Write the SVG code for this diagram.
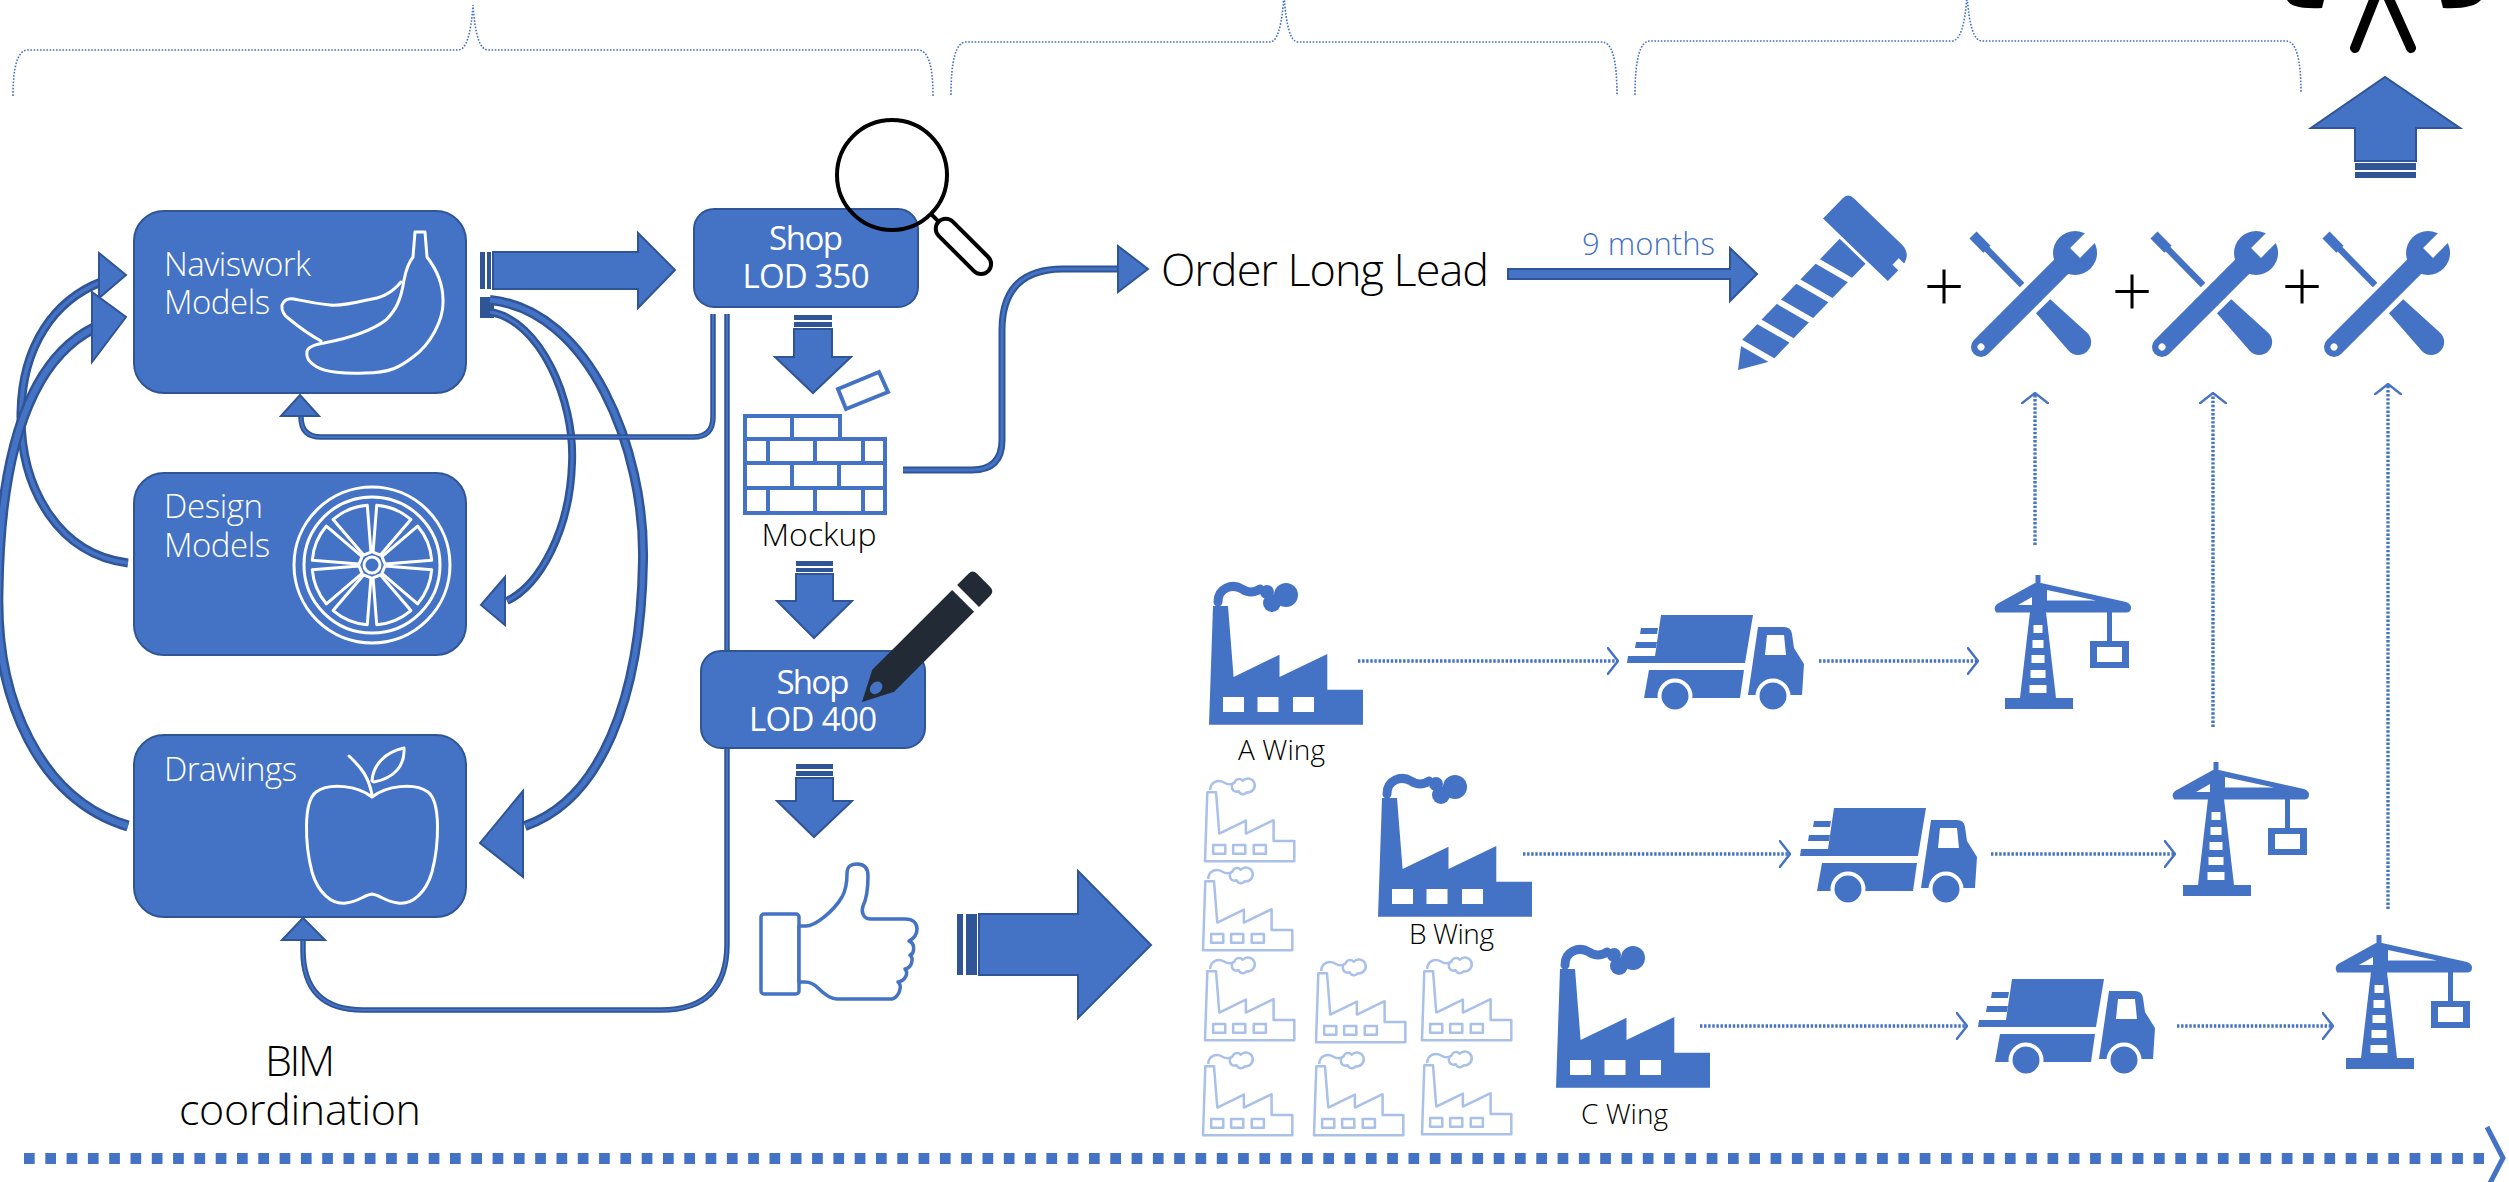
<svg xmlns="http://www.w3.org/2000/svg" width="2509" height="1182" viewBox="0 0 2509 1182">
<style>
 .box{fill:#4472C4;stroke:#2F5597;stroke-width:2}
 .blk{fill:#4472C4;stroke:#2F5597;stroke-width:2;stroke-linejoin:miter}
 .stripe{fill:#2F5597}
 .t{font-family:"Open Sans","Liberation Sans",sans-serif}
 .wl{fill:#fff;font-weight:300;font-size:33px}
 .sh{fill:#fff;font-weight:400;font-size:33px;text-anchor:middle}
 .bk{fill:#000;font-weight:300}
 .dot{fill:none;stroke:#4472C4;stroke-width:3.4;stroke-dasharray:2.4 1.7;marker-end:url(#chev)}
 .brace{fill:none;stroke:#4472C4;stroke-width:1.6;stroke-dasharray:1.6 1.6}
 .lo{fill:none;stroke:#2F5597}
 .li{fill:none;stroke:#4472C4}
 .ic{fill:none;stroke:#fff;stroke-width:3;stroke-linejoin:round;stroke-linecap:round}
</style>
<defs>
 <marker id="chev" viewBox="0 0 12 28" refX="11" refY="14" markerWidth="12" markerHeight="28" markerUnits="userSpaceOnUse" orient="auto">
  <path d="M0,0 L11,14 L0,28" fill="none" stroke="#4472C4" stroke-width="2.4"/>
 </marker>
 <!-- solid factory, 154 x 142 -->
 <g id="fac" fill="#4472C4">
  <path d="M0,141.7 L4,23 H19 L24.6,94 L70.5,71.7 V94 L118.3,71 V106.7 H154 V141.7 Z"/>
  <g fill="#fff"><rect x="14" y="114" width="21" height="15"/><rect x="48.5" y="114" width="21" height="15"/><rect x="84" y="114" width="21" height="15"/></g>
  <path d="M9,19 C9,5 23,0 33,6 C39,10 45,10 51,6" fill="none" stroke="#4472C4" stroke-width="9" stroke-linecap="round"/>
  <circle cx="77" cy="12" r="12"/><circle cx="63" cy="20" r="9"/><circle cx="58" cy="9" r="7"/>
 </g>
 <!-- outlined factory -->
 <g id="facLine" fill="none" stroke="#A9C0E8" stroke-width="4.3" stroke-linejoin="round">
  <path d="M0,141.7 L4,23 H19 L24.6,94 L70.5,71.7 V94 L118.3,71 V106.7 H154 V141.7 Z"/>
  <rect x="14" y="114" width="21" height="15"/><rect x="48.5" y="114" width="21" height="15"/><rect x="84" y="114" width="21" height="15"/>
  <path d="M9,19 C9,5 23,0 33,6 C39,10 45,10 51,6"/>
  <path d="M51,6 A8,8 0 0 1 65,3 A12,12 0 1 1 72,23 A8,8 0 0 1 58,21 A7,7 0 0 1 51,6 Z"/>
 </g>
 <!-- delivery truck, 178 x 97 -->
 <g id="truck" fill="#4472C4">
  <path d="M34,0 H126 L118,48 H0 L1,41 H28 Z"/>
  <path d="M14,13 H31 L30,19 H13 Z"/>
  <path d="M9,27 H30 L29,33 H8 Z"/>
  <path d="M22,55 H117 L113,83 H17 Z"/>
  <path d="M131,12 H157 Q164,12 165,19 L167,33 L177,49 L175,80 H121 Z"/>
  <path d="M140,20 H157 L159,40 H138 Z" fill="#fff"/>
  <circle cx="48" cy="81" r="15.5" stroke="#fff" stroke-width="4"/>
  <circle cx="146" cy="81" r="15.5" stroke="#fff" stroke-width="4"/>
 </g>
 <!-- tower crane, origin at the mast peak -->
 <g id="crane" fill="#4472C4">
  <rect x="-2.5" y="0" width="5" height="14"/>
  <path d="M-3,8 L-41,29 Q-45,32 -42,37.6 H89 Q93,37 93,32.5 Q93,29 88,27 L3,8 Z"/>
  <path d="M-20,30 L-6,22 V30 Z M9,15 L58,25.5 H9 Z" fill="#fff"/>
  <path d="M-8,37 H8 L18,123 H-18 Z"/>
  <g fill="#fff"><rect x="-4.5" y="50" width="9" height="8"/><rect x="-5.5" y="65" width="11" height="8"/><rect x="-6.5" y="80" width="13" height="8"/><rect x="-7.5" y="95" width="15" height="8"/><rect x="-8.5" y="110" width="17" height="8"/></g>
  <rect x="-33" y="123" width="68" height="11"/>
  <rect x="69" y="37" width="5" height="30"/>
  <rect x="52" y="66" width="39" height="27"/>
  <rect x="59" y="72" width="25" height="15" fill="#fff"/>
 </g>
 <!-- wrench and screwdriver, 127 x 127 -->
 <g id="tools" fill="#4472C4">
  <g transform="translate(3,3) rotate(45.5)">
   <path d="M0,-5 H20 V5 H0 Z"/>
   <rect x="18" y="-3.2" width="52" height="6.4"/>
   <path d="M100,-10 L150,-13 A13,13 0 0 1 150,13 L100,10 Z"/>
  </g>
  <g transform="translate(11,115) rotate(-45)">
   <path d="M0,-10 H115 V10 H0 A10,10 0 0 1 0,-10 Z"/>
   <circle cx="133" cy="0" r="22"/>
   <rect x="133" y="-7" width="28" height="14" fill="#fff"/>
   <circle cx="0" cy="0" r="3.5" fill="#fff"/>
  </g>
 </g>
</defs>

<rect width="2509" height="1182" fill="#fff"/>

<!-- phase brackets along the top -->
<g id="braces">
 <path class="brace" d="M13,96 Q13,50 28,50 H458 Q470,50 473,5 Q476,50 488,50 H918 Q933,50 933,96"/>
 <path class="brace" d="M951,95 Q951,42 966,42 H1270 Q1281,42 1284,-5 Q1287,42 1298,42 H1602 Q1617,42 1617,95"/>
 <path class="brace" d="M1635,95 Q1635,41 1650,41 H1952 Q1964,41 1967,-5 Q1970,41 1982,41 H2286 Q2301,41 2301,93"/>
</g>

<g id="connectors">
 <!-- curved block arrows of the coordination loop -->
 <path class="lo" stroke-width="9" d="M128,563 C60,555 20,490 21,413 C22,345 55,300 101,282"/>
 <path class="li" stroke-width="4" d="M128,563 C60,555 20,490 21,413 C22,345 55,300 101,282"/>
 <polygon class="blk" points="99,253 126,275 99,298"/>
 <path class="lo" stroke-width="11" d="M128,826 C40,800 -5,700 -2,590 C0,450 30,360 94,328"/>
 <path class="li" stroke-width="6" d="M128,826 C40,800 -5,700 -2,590 C0,450 30,360 94,328"/>
 <polygon class="blk" points="92,292 126,317 92,362"/>
 <rect x="480" y="297" width="14" height="21" fill="#2F5597"/>
 <path class="lo" stroke-width="8" d="M490,312 C540,320 575,400 572,463 C570,530 540,585 507,601"/>
 <path class="li" stroke-width="3" d="M490,312 C540,320 575,400 572,463 C570,530 540,585 507,601"/>
 <polygon class="blk" points="505,577 481,605 505,625"/>
 <path class="lo" stroke-width="10" d="M490,300 C590,310 645,450 643,560 C641,700 600,800 525,826"/>
 <path class="li" stroke-width="5" d="M490,300 C590,310 645,450 643,560 C641,700 600,800 525,826"/>
 <polygon class="blk" points="523,791 480,843 523,877"/>

 <!-- Naviswork to Shop LOD 350 -->
 <rect class="stripe" x="480" y="252" width="5" height="37"/>
 <rect class="stripe" x="487" y="252" width="4" height="37"/>
 <path class="blk" d="M493,252 H638 V233 L675,270 L638,308 V289 H493 Z"/>

 <!-- feedback lines back to the models -->
 <path class="lo" stroke-width="5.5" d="M713,314 V417 Q713,437 693,437 H321 Q301,437 301,417 V414"/>
 <path class="li" stroke-width="2" d="M713,314 V417 Q713,437 693,437 H321 Q301,437 301,417 V414"/>
 <polygon class="blk" points="281,416 300,395 319,416"/>
 <path class="lo" stroke-width="5.5" d="M727,314 V944 Q727,1010 661,1010 H363 Q303,1010 303,950 V941"/>
 <path class="li" stroke-width="2" d="M727,314 V944 Q727,1010 661,1010 H363 Q303,1010 303,950 V941"/>
 <polygon class="blk" points="282,940 303,918 325,940"/>

 <!-- vertical flow -->
 <rect class="stripe" x="794" y="315" width="38" height="5"/>
 <rect class="stripe" x="794" y="322" width="38" height="5"/>
 <path class="blk" d="M794,329 H832 V357 H851 L813,393 L775,357 H794 Z"/>
 <rect class="stripe" x="796" y="561" width="37" height="5"/>
 <rect class="stripe" x="796" y="568" width="37" height="4"/>
 <path class="blk" d="M796,574 H833 V601 H852 L814,638 L777,601 H796 Z"/>
 <rect class="stripe" x="796" y="764" width="37" height="5"/>
 <rect class="stripe" x="796" y="771" width="37" height="5"/>
 <path class="blk" d="M796,778 H833 V801 H852 L814,837 L777,801 H796 Z"/>

 <!-- approval to production -->
 <rect class="stripe" x="957" y="914" width="6" height="61"/>
 <rect class="stripe" x="966" y="914" width="11" height="61"/>
 <path class="blk" d="M979,914 H1078 V871 L1151,945 L1078,1018 V975 H979 Z"/>

 <!-- mockup to long lead order -->
 <path class="lo" stroke-width="7" d="M903,470 H972 Q1002,470 1002,440 V330 Q1002,269 1063,269 H1120"/>
 <path class="li" stroke-width="3" d="M903,470 H972 Q1002,470 1002,440 V330 Q1002,269 1063,269 H1120"/>
 <polygon class="blk" points="1118,246 1148,269 1118,292"/>

 <!-- nine month lead time -->
 <path class="blk" d="M1508,269 H1730 V248 L1757,274 L1730,301 V279 H1508 Z"/>

 <!-- up arrow at the top right -->
 <path class="blk" d="M2355,161 V128 H2311 L2385,77 L2460,128 H2416 V161 Z"/>
 <rect class="stripe" x="2355" y="163" width="61" height="7"/>
 <rect class="stripe" x="2355" y="172" width="61" height="6"/>

 <!-- supply chain dotted links -->
 <path class="dot" d="M1358,661 H1618"/>
 <path class="dot" d="M1819,661 H1978"/>
 <path class="dot" d="M1523,854 H1790"/>
 <path class="dot" d="M1991,854 H2175"/>
 <path class="dot" d="M1700,1026 H1967"/>
 <path class="dot" d="M2177,1026 H2333"/>
 <path class="dot" d="M2035,545 V393"/>
 <path class="dot" d="M2213,727 V393"/>
 <path class="dot" d="M2388,909 V384"/>

 <!-- timeline -->
 <path d="M24,1158.5 H2484" fill="none" stroke="#4472C4" stroke-width="11" stroke-dasharray="10.7 10.6"/>
 <polyline points="2487,1127 2503,1158 2487,1189" fill="none" stroke="#4472C4" stroke-width="5"/>
</g>

<!-- model boxes -->
<g id="naviswork">
 <rect class="box" x="134" y="211" width="332" height="182" rx="30"/>
 <text class="t wl" x="164" y="276" textLength="147">Naviswork</text>
 <text class="t wl" x="164" y="314" textLength="106">Models</text>
 <path class="ic" d="M413,257 L415,232 H425 L427,257 C437,270 443,285 443,300 C444,320 430,345 413,357 C400,367 390,373 365,373 C345,374 325,372 317,367 C309,362 306,358 307,352 C307,348 312,345 324,343 C345,339 370,332 386,320 C396,310 401,300 404,280 C406,270 409,262 413,257 Z"/>
 <path class="ic" d="M401,282 C390,295 380,298 367,300 C350,304 340,306 330,305 C310,303 300,300 294,299 C288,298 284,300 282,305 C281,311 285,316 288,318 C300,328 310,335 321,341"/>
</g>
<g id="design-models">
 <rect class="box" x="134" y="473" width="332" height="182" rx="30"/>
 <text class="t wl" x="164" y="518" textLength="99">Design</text>
 <text class="t wl" x="164" y="557" textLength="106">Models</text>
 <g transform="translate(372,565)">
  <circle class="ic" r="78"/>
  <circle class="ic" r="68"/>
  <circle class="ic" r="8"/>
  <g class="ic">
   <path transform="rotate(22.5)" d="M12.4,-4 L57,-18.5 A60,60 0 0 1 57,18.5 L12.4,4 Z"/>
   <path transform="rotate(67.5)" d="M12.4,-4 L57,-18.5 A60,60 0 0 1 57,18.5 L12.4,4 Z"/>
   <path transform="rotate(112.5)" d="M12.4,-4 L57,-18.5 A60,60 0 0 1 57,18.5 L12.4,4 Z"/>
   <path transform="rotate(157.5)" d="M12.4,-4 L57,-18.5 A60,60 0 0 1 57,18.5 L12.4,4 Z"/>
   <path transform="rotate(202.5)" d="M12.4,-4 L57,-18.5 A60,60 0 0 1 57,18.5 L12.4,4 Z"/>
   <path transform="rotate(247.5)" d="M12.4,-4 L57,-18.5 A60,60 0 0 1 57,18.5 L12.4,4 Z"/>
   <path transform="rotate(292.5)" d="M12.4,-4 L57,-18.5 A60,60 0 0 1 57,18.5 L12.4,4 Z"/>
   <path transform="rotate(337.5)" d="M12.4,-4 L57,-18.5 A60,60 0 0 1 57,18.5 L12.4,4 Z"/>
  </g>
 </g>
</g>
<g id="drawings">
 <rect class="box" x="134" y="735" width="332" height="182" rx="30"/>
 <text class="t wl" x="164" y="781" textLength="133">Drawings</text>
 <path class="ic" d="M372,797 C358,786 330,782 316,792 C303,802 305,845 312,872 C318,893 332,905 346,903 C358,902 364,895 372,894 C380,895 386,902 398,903 C412,905 426,893 432,872 C439,845 441,802 428,792 C414,782 386,786 372,797 Z"/>
 <path class="ic" d="M372,795 C369,778 362,768 349,756"/>
 <path class="ic" d="M372,781 C373,765 385,752 404,748 C405,765 395,778 374,782 Z"/>
</g>
<g id="bim-label">
 <text class="t bk" x="300" y="1076" font-size="43" text-anchor="middle" textLength="70">BIM</text>
 <text class="t bk" x="300" y="1125" font-size="43" text-anchor="middle" textLength="242">coordination</text>
</g>

<!-- shop drawing stages -->
<g id="shop-350">
 <rect class="box" x="694" y="209" width="224" height="98" rx="20"/>
 <text class="t sh" x="806" y="250" textLength="74">Shop</text>
 <text class="t sh" x="806" y="288" textLength="127">LOD 350</text>
 <circle cx="892" cy="175" r="55" fill="none" stroke="#000" stroke-width="4"/>
 <g transform="translate(892,175) rotate(45)">
  <line x1="55" y1="0" x2="66" y2="0" stroke="#000" stroke-width="4"/>
  <rect x="66" y="-10" width="70" height="20" rx="10" fill="#fff" stroke="#000" stroke-width="4"/>
 </g>
</g>
<g id="mockup">
 <polygon points="838,389 879,372 888,392 846,409" fill="#fff" stroke="#4472C4" stroke-width="4"/>
 <path fill="#fff" stroke="#4472C4" stroke-width="4" d="M745,416 H840 V439 H885 V513 H745 Z M745,439 H840 M745,463 H885 M745,488 H885 M792,416 V439 M768,439 V463 M815,439 V463 M863,439 V463 M792,463 V488 M839,463 V488 M768,488 V513 M815,488 V513 M863,488 V513"/>
 <text class="t bk" x="819" y="546" font-size="32" text-anchor="middle" textLength="115">Mockup</text>
</g>
<g id="shop-400">
 <rect class="box" x="701" y="651" width="224" height="97" rx="20"/>
 <text class="t sh" x="813" y="694" textLength="73">Shop</text>
 <text class="t sh" x="813" y="731" textLength="128">LOD 400</text>
 <g transform="translate(862,702) rotate(-45)" fill="#222A35">
  <path d="M0,0 L30,-15.5 H143 V15.5 H30 Z"/>
  <ellipse cx="20" cy="0" rx="7" ry="5.5" fill="#4472C4"/>
  <path d="M150,-15.5 H166 Q172,-15.5 172,-9 V9 Q172,15.5 166,15.5 H150 Z"/>
 </g>
</g>
<g id="approval">
 <rect x="761" y="914" width="38" height="80" rx="3" fill="#fff" stroke="#4472C4" stroke-width="3.5"/>
 <path fill="#fff" stroke="#4472C4" stroke-width="3.5" stroke-linejoin="round" d="M799,926 L806,926 C815,926 833,912 842,897 C847,888 847,880 847,874 C847,866 851,864 857,864 C864,864 868,868 868,876 C868,888 866,900 863,906 C861,912 863,919 871,919 L905,919 C913,919 917,923 917,929 C917,935 913,939 909,941 C915,943 915,953 910,955 C914,958 912,968 905,969 C909,973 905,981 898,982 C903,986 899,997 892,999 L837,999 C830,999 823,993 818,988 C814,984 810,982 805,982 L799,982 Z"/>
</g>

<!-- long lead procurement -->
<g id="order-long-lead">
 <text class="t bk" x="1161" y="286" font-size="45" textLength="328">Order Long Lead</text>
 <text class="t" x="1582" y="255" font-size="31" font-weight="300" fill="#4472C4" textLength="133">9 months</text>
</g>
<g id="screw" transform="translate(1738,370) rotate(44)" fill="#4472C4">
 <path d="M0,0 L-18,-24 V-165 H18 V-30 Z"/>
 <g stroke="#fff" stroke-width="6">
  <line x1="-24" y1="-20" x2="24" y2="-32"/>
  <line x1="-24" y1="-48" x2="24" y2="-60"/>
  <line x1="-24" y1="-76" x2="24" y2="-88"/>
  <line x1="-24" y1="-104" x2="24" y2="-116"/>
  <line x1="-24" y1="-132" x2="24" y2="-144"/>
 </g>
 <path d="M-44,-168 V-196 Q-44,-204 -36,-204 H30 Q46,-204 46,-186 V-168 Z"/>
 <rect x="38" y="-192" width="10" height="9" fill="#fff"/>
</g>
<g id="install-1"><use href="#tools" transform="translate(1970,232)"/></g>
<g id="install-2"><use href="#tools" transform="translate(2151,232)"/></g>
<g id="install-3"><use href="#tools" transform="translate(2323,232)"/></g>
<g id="plus-signs" class="t" font-size="72" font-weight="300" text-anchor="middle" fill="#000">
 <text x="1944" y="312">+</text>
 <text x="2132" y="317">+</text>
 <text x="2302" y="312">+</text>
</g>
<g id="top-figure">
 <path d="M2287,0 C2290,6 2300,9 2322,8 L2324,0 Z" fill="#000"/>
 <path d="M2441,0 L2443,8 C2463,9 2476,6 2481,0 Z" fill="#000"/>
 <line x1="2378" y1="-10" x2="2355" y2="48" stroke="#000" stroke-width="10" stroke-linecap="round"/>
 <line x1="2385" y1="-10" x2="2411" y2="48" stroke="#000" stroke-width="10" stroke-linecap="round"/>
</g>

<!-- production wings -->
<g id="factory-a">
 <use href="#fac" transform="translate(1209,583)"/>
 <text class="t bk" x="1238" y="760" font-size="28" textLength="87">A Wing</text>
</g>
<g id="factory-b">
 <use href="#fac" transform="translate(1378,775)"/>
 <text class="t bk" x="1409" y="944" font-size="28" textLength="85">B Wing</text>
</g>
<g id="factory-c">
 <use href="#fac" transform="translate(1556,946)"/>
 <text class="t bk" x="1581" y="1124" font-size="28" textLength="87">C Wing</text>
</g>
<g id="other-factories">
 <use href="#facLine" transform="translate(1205,779) scale(0.58)"/>
 <use href="#facLine" transform="translate(1203,868) scale(0.58)"/>
 <use href="#facLine" transform="translate(1205,958) scale(0.58)"/>
 <use href="#facLine" transform="translate(1316,960) scale(0.58)"/>
 <use href="#facLine" transform="translate(1422,958) scale(0.58)"/>
 <use href="#facLine" transform="translate(1203,1053) scale(0.58)"/>
 <use href="#facLine" transform="translate(1314,1053) scale(0.58)"/>
 <use href="#facLine" transform="translate(1422,1052) scale(0.58)"/>
</g>
<g id="truck-a"><use href="#truck" transform="translate(1627,615)"/></g>
<g id="truck-b"><use href="#truck" transform="translate(1800,808)"/></g>
<g id="truck-c"><use href="#truck" transform="translate(1978,979)"/></g>
<g id="crane-a"><use href="#crane" transform="translate(2038,575)"/></g>
<g id="crane-b"><use href="#crane" transform="translate(2216,762)"/></g>
<g id="crane-c"><use href="#crane" transform="translate(2379,935)"/></g>
</svg>
